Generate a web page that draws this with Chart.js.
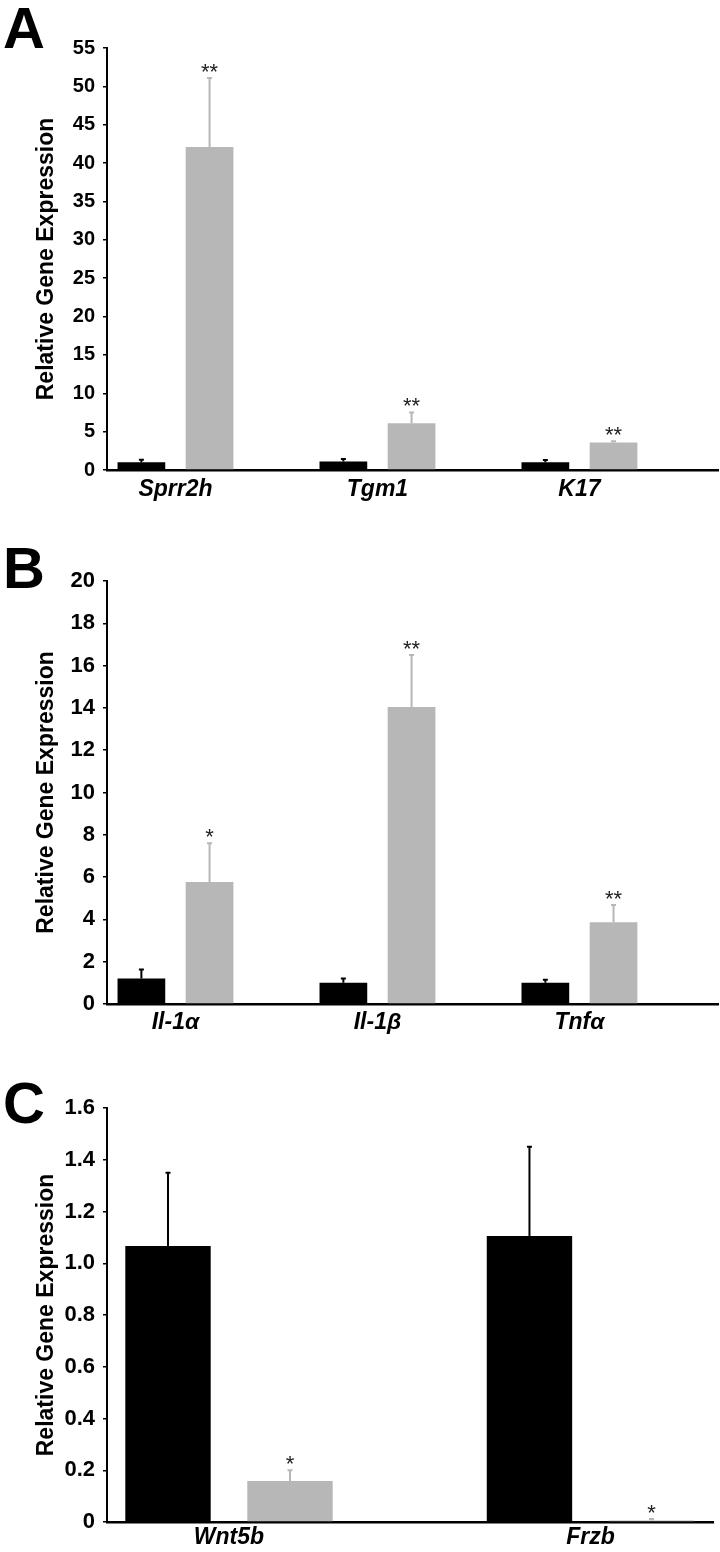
<!DOCTYPE html>
<html>
<head>
<meta charset="utf-8">
<script src="https://cdn.jsdelivr.net/npm/chart.js@4.4.1/dist/chart.umd.min.js"></script>
<style>
  body { margin: 0; background: #fff; width: 720px; height: 1552px; position: relative; overflow: hidden; }
  canvas { position: absolute; left: 0; }
  .panel { position: absolute; left: 3px; z-index: 2; font: bold 58px "Liberation Sans", Arial, sans-serif; line-height: 1; color: #000; }
</style>
</head>
<body>
<canvas id="chartA" width="720" height="510" style="top:0px"></canvas>
<canvas id="chartB" width="720" height="535" style="top:510px"></canvas>
<canvas id="chartC" width="720" height="507" style="top:1045px"></canvas>
<div class="panel" style="top:-1px">A</div>
<div class="panel" style="top:539px">B</div>
<div class="panel" style="top:1074px">C</div>
<script>
// panel A
var genesA = ['Sprr2h', 'Tgm1', 'K17'];
var controlA = [1.0, 1.1, 1.0];
var controlErrA = [0.35, 0.32, 0.3];
var treatedA = [42.1, 6.1, 3.6];
var treatedErrA = [9.0, 1.4, 0.15];
var starsA = ['**', '**', '**'];

// panel B
var genesB = ['Il-1\u03b1', 'Il-1\u03b2', 'Tnf\u03b1'];
var controlB = [1.2, 1.0, 1.0];
var controlErrB = [0.43, 0.2, 0.15];
var treatedB = [5.77, 14.04, 3.87];
var treatedErrB = [1.83, 2.46, 0.81];
var starsB = ['*', '**', '**'];

// panel C
var genesC = ['Wnt5b', 'Frzb'];
var controlC = [1.067, 1.105];
var controlErrC = [0.283, 0.345];
var treatedC = [0.158, 0.006];
var treatedErrC = [0.042, 0.006];
var starsC = ['*', '*'];

var FONT = '"Liberation Sans", Arial, sans-serif';
var GREY = '#b7b7b7';

var errorBarPlugin = {
    id: 'errorBars',
    afterDatasetsDraw: function (chart) {
        var ctx = chart.ctx;
        var yScale = chart.scales.y;
        chart.data.datasets.forEach(function (ds, i) {
            var meta = chart.getDatasetMeta(i);
            meta.data.forEach(function (bar, j) {
                var top = yScale.getPixelForValue(ds.data[j].y + ds.errors[j]);
                ctx.save();
                ctx.strokeStyle = ds.backgroundColor;
                ctx.lineWidth = 2;
                ctx.beginPath();
                ctx.moveTo(bar.x, bar.y);
                ctx.lineTo(bar.x, top);
                ctx.moveTo(bar.x - 2.5, top);
                ctx.lineTo(bar.x + 2.5, top);
                ctx.stroke();
                if (ds.stars) {
                    ctx.fillStyle = '#222';
                    ctx.font = '22px ' + FONT;
                    ctx.textAlign = 'center';
                    ctx.textBaseline = 'alphabetic';
                    ctx.fillText(ds.stars[j], bar.x, top + 1);
                }
                ctx.restore();
            });
        });
    }
};

function toPoints(values) {
    return values.map(function (v, i) { return { x: i + 1, y: v }; });
}

function makePanel(id, genes, control, controlErr, treated, treatedErr, stars, cfg) {
    var ctx = document.getElementById(id).getContext('2d');
    return new Chart(ctx, {
        type: 'bar',
        data: {
            datasets: [{
                label: 'Control',
                data: toPoints(control),
                errors: controlErr,
                backgroundColor: '#000'
            }, {
                label: 'Treated',
                data: toPoints(treated),
                errors: treatedErr,
                stars: stars,
                backgroundColor: GREY
            }]
        },
        options: {
            responsive: false,
            animation: false,
            categoryPercentage: 0.675,
            barPercentage: 0.7,
            layout: { padding: { left: 0, top: cfg.top, right: cfg.right, bottom: 0 } },
            plugins: { legend: { display: false }, tooltip: { enabled: false } },
            scales: {
                x: {
                    type: 'linear',
                    offset: false,
                    min: cfg.xMin,
                    max: cfg.xMax,
                    grid: { display: false, drawTicks: false, offset: false },
                    border: { display: true, color: '#000', width: 2.5 },
                    afterBuildTicks: function (scale) {
                        scale.ticks = genes.map(function (g, i) { return { value: i + 1 }; });
                    },
                    afterFit: function (scale) { scale.height = cfg.xHeight; },
                    ticks: {
                        padding: cfg.labelPad,
                        color: '#000',
                        font: { family: FONT, size: 23, weight: 'bold', style: 'italic' },
                        maxRotation: 0,
                        autoSkip: false,
                        callback: function (value) { return genes[value - 1]; }
                    }
                },
                y: {
                    min: 0,
                    max: cfg.yMax,
                    afterFit: function (scale) { scale.width = 107; },
                    grid: { display: true, drawOnChartArea: false, drawTicks: true, tickLength: 4, color: '#000', lineWidth: 1.5 },
                    border: { display: true, color: '#000', width: 2 },
                    ticks: {
                        stepSize: cfg.step,
                        padding: 8,
                        color: '#000',
                        font: { family: FONT, size: cfg.tickSize, weight: 'bold' },
                        callback: cfg.fmt
                    },
                    title: {
                        display: true,
                        text: 'Relative Gene Expression',
                        color: '#000',
                        padding: { top: 33, bottom: 0 },
                        font: { family: FONT, size: 23, weight: 'bold' }
                    }
                }
            }
        },
        plugins: [errorBarPlugin]
    });
}

function intFmt(v) { return String(v); }
function decFmt(v) { return v === 0 ? '0' : v.toFixed(1); }

makePanel('chartA', genesA, controlA, controlErrA, treatedA, treatedErrA, starsA,
    { top: 48, right: 2, xHeight: 40, labelPad: 6, xMin: 0.661, xMax: 3.686, yMax: 55, step: 5, tickSize: 20, fmt: intFmt });
makePanel('chartB', genesB, controlB, controlErrB, treatedB, treatedErrB, starsB,
    { top: 71, right: 2, xHeight: 41, labelPad: 5, xMin: 0.661, xMax: 3.686, yMax: 20, step: 2, tickSize: 22, fmt: intFmt });
makePanel('chartC', genesC, controlC, controlErrC, treatedC, treatedErrC, starsC,
    { top: 63, right: 7, xHeight: 30, labelPad: 2, xMin: 0.6625, xMax: 2.339, yMax: 1.6, step: 0.2, tickSize: 22, fmt: decFmt });
</script>
</body>
</html>
